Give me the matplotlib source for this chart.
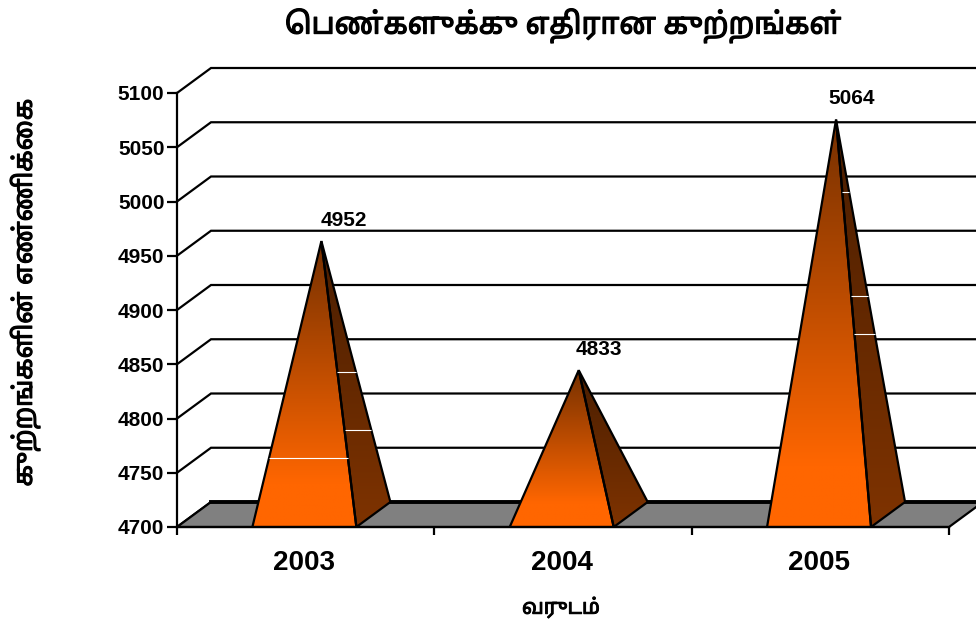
import numpy as np
import matplotlib
matplotlib.use('Agg')
import matplotlib.pyplot as plt
import matplotlib.patheffects as pe
from matplotlib.colors import LinearSegmentedColormap
from matplotlib.patches import Polygon

years = ['2003', '2004', '2005']
cases = [4952, 4833, 5064]
y_ticks = [4700, 4750, 4800, 4850, 4900, 4950, 5000, 5050, 5100]

title = 'பெண்களுக்கு எதிரான குற்றங்கள்'
x_title = 'வருடம்'
y_title = 'குற்றங்களின் எண்ணிக்கை'

# thin white streaks the source has on the pyramids: (bar index, face, height)
streaks = [(0, 'front', 4764), (0, 'side', 4843), (0, 'side', 4789),
           (2, 'side', 5009), (2, 'side', 4913), (2, 'side', 4878)]

W, H = 976, 627
LEFT, RIGHT, TOP, BOTTOM = 177, 949, 93, 527
depth_x = 34 / (RIGHT - LEFT) * 3
depth_y = 25 / (BOTTOM - TOP) * 400
bar_w = 104 / (RIGHT - LEFT) * 3
base = y_ticks[0]
label_shift = [16, 14.5, 11]  # points, labels sit right of the apex by different amounts

tamil = ['Noto Sans Tamil', 'Liberation Sans']
plt.rcParams['font.family'] = ['Liberation Sans']
plt.rcParams['font.weight'] = 'bold'

front_cmap = LinearSegmentedColormap.from_list(
    'front', [(0, '#FF6600'), (0.15, '#FF6600'), (1, '#753000')])
side_cmap = LinearSegmentedColormap.from_list('side', ['#7F3300', '#4A1E00'])


def visual(text):
    # matplotlib has no Tamil shaper, so vowel signs drawn left of the consonant go first
    chars = list(text)
    for i in range(1, len(chars)):
        if chars[i] in 'ெேை':
            chars[i - 1], chars[i] = chars[i], chars[i - 1]
    return ''.join(chars)


fig = plt.figure(figsize=(W / 100, H / 100), dpi=100)
ax = fig.add_axes([LEFT / W, 1 - BOTTOM / H, (RIGHT - LEFT) / W, (BOTTOM - TOP) / H])
ax.set_xlim(0, 3)
ax.set_ylim(y_ticks[0], y_ticks[-1])

# back wall lines and the slanted bits going to the value axis
for v in y_ticks:
    ax.plot([0, depth_x, 3 + depth_x], [v, v + depth_y, v + depth_y], color='black',
            lw=1.6, clip_on=False, zorder=2, solid_joinstyle='miter')

# floor
floor = Polygon([(0, base), (3, base), (3 + depth_x, base + depth_y), (depth_x, base + depth_y)],
                closed=True, facecolor='#808080', edgecolor='black', lw=1.6,
                clip_on=False, zorder=3)
ax.add_patch(floor)
ax.plot([depth_x, 3 + depth_x], [base + depth_y, base + depth_y], color='black', lw=2.8,
        clip_on=False, zorder=3)


def gradient(poly, cmap, y0, y1):
    xs = [p[0] for p in poly]
    grad = np.linspace(1, 0, 256).reshape(-1, 1)
    im = ax.imshow(grad, cmap=cmap, vmin=0, vmax=1, aspect='auto', zorder=4,
                   extent=[min(xs), max(xs), y0, y1], interpolation='bilinear')
    patch = Polygon(poly, closed=True, facecolor='none', edgecolor='black', lw=1.6,
                    zorder=5, joinstyle='miter')
    ax.add_patch(patch)
    im.set_clip_path(patch)


centres = [i + 0.495 for i in range(len(cases))]

for i, val in enumerate(cases):
    c = centres[i]
    apex = (c + depth_x / 2, val + depth_y / 2)
    fl = (c - bar_w / 2, base)
    fr = (c + bar_w / 2, base)
    br = (fr[0] + depth_x, base + depth_y)
    gradient([fr, br, apex], side_cmap, base, apex[1])
    gradient([fl, fr, apex], front_cmap, base, apex[1])
    ax.annotate(str(val), apex, xytext=(label_shift[i], 15), textcoords='offset points',
                ha='center', va='center', fontsize=15, zorder=6)

for i, face, h in streaks:
    c = centres[i]
    val = cases[i]
    ax_x = c + depth_x / 2
    ax_y = val + depth_y / 2
    t = (h - base) / (ax_y - base)
    x1 = c + bar_w / 2 + (ax_x - c - bar_w / 2) * t
    if face == 'front':
        x0 = c - bar_w / 2 + (ax_x - c + bar_w / 2) * t
    else:
        s = (h - base - depth_y) / (ax_y - base - depth_y)
        x0 = x1
        x1 = c + bar_w / 2 + depth_x + (ax_x - c - bar_w / 2 - depth_x) * s
    ax.plot([x0, x1], [h, h], color='white', lw=0.8, zorder=6, solid_capstyle='butt')

for side in ['top', 'right']:
    ax.spines[side].set_visible(False)
for side in ['left', 'bottom']:
    ax.spines[side].set_linewidth(1.6)
    ax.spines[side].set_zorder(7)

ax.set_yticks(y_ticks)
ax.tick_params(axis='y', length=7, width=1.6, labelsize=15, pad=2)
ax.set_xticks([0, 1, 2, 3])
ax.set_xticklabels([])
ax.tick_params(axis='x', length=6, width=1.6)
for i, year in enumerate(years):
    ax.annotate(year, (i + 0.5, base), xytext=(-1, -26), textcoords='offset points',
                ha='center', va='center', fontsize=20, annotation_clip=False)

# Noto Sans Tamil has no bold face here, a thin stroke thickens it
fig.text(563 / W, 1 - 26 / H, visual(title), ha='center', va='center', fontsize=21.3,
         family=tamil, path_effects=[pe.withStroke(linewidth=0.9, foreground='black')])
fig.text(561 / W, 1 - 608 / H, visual(x_title), ha='center', va='center', fontsize=15,
         family=tamil, path_effects=[pe.withStroke(linewidth=0.7, foreground='black')])
fig.text(25 / W, 1 - 293 / H, visual(y_title), ha='center', va='center', rotation=90,
         fontsize=18.7, family=tamil,
         path_effects=[pe.withStroke(linewidth=0.8, foreground='black')])

fig.savefig('out.png', dpi=100)
